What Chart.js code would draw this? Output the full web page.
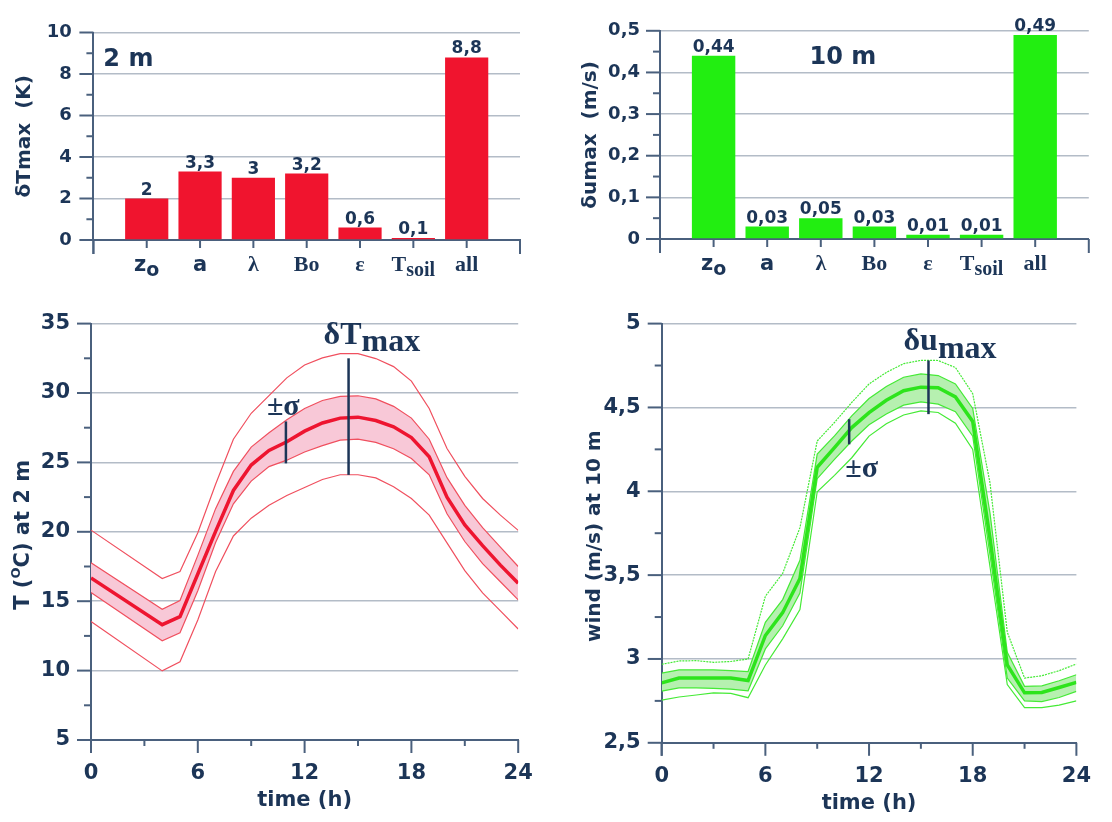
<!DOCTYPE html>
<html><head><meta charset="utf-8">
<script src="https://cdn.jsdelivr.net/npm/chart.js@4.4.1/dist/chart.umd.min.js"></script>
<style>
html,body{margin:0;padding:0;background:#fff;}
#wrap{position:relative;width:1112px;height:822px;overflow:hidden;background:#fff;}
canvas{position:absolute;}
</style></head><body>
<div id="wrap">
<canvas id="c1" width="556" height="290" style="left:0;top:0"></canvas>
<canvas id="c2" width="556" height="290" style="left:556px;top:0"></canvas>
<canvas id="c3" width="556" height="532" style="left:0;top:290px"></canvas>
<canvas id="c4" width="556" height="532" style="left:556px;top:290px"></canvas>
</div>
<script>
// ---------------- data ----------------
const categories = ['z|o', 'a', 'λ', 'Bo', 'ε', 'T|soil', 'all'];
const dTmax = [2, 3.3, 3, 3.2, 0.6, 0.1, 8.8];
const dUmax = [0.44, 0.03, 0.05, 0.03, 0.01, 0.01, 0.49];

const hoursT = [0, 4, 5, 6, 7, 8, 9, 10, 11, 12, 13, 14, 15, 16, 17, 18, 19, 20, 21, 22, 23, 24];
const tMean  = [16.68, 13.31, 13.89, 16.96, 20.03, 22.98, 24.81, 25.86, 26.49, 27.25, 27.84, 28.19, 28.26, 28.02, 27.56, 26.79, 25.40, 22.50, 20.50, 19.00, 17.60, 16.30];
const tSigUp = [17.77, 14.42, 15.05, 18.30, 21.67, 24.35, 26.10, 27.14, 28.07, 28.88, 29.46, 29.76, 29.80, 29.58, 29.04, 28.19, 26.67, 23.90, 21.90, 20.30, 18.90, 17.50];
const tSigLo = [15.63, 12.15, 12.73, 15.75, 19.23, 22.02, 23.65, 24.70, 25.16, 25.75, 26.21, 26.60, 26.67, 26.44, 25.98, 25.28, 24.11, 21.30, 19.30, 17.70, 16.40, 15.10];
const tOutUp = [20.12, 16.63, 17.14, 19.93, 23.42, 26.67, 28.54, 29.81, 31.09, 32.02, 32.53, 32.83, 32.83, 32.48, 31.90, 30.86, 28.88, 26.00, 24.00, 22.40, 21.20, 20.10];
const tOutLo = [13.54, 9.98, 10.63, 13.65, 17.14, 19.70, 20.98, 21.91, 22.61, 23.19, 23.77, 24.11, 24.11, 23.88, 23.24, 22.40, 21.20, 19.20, 17.20, 15.60, 14.30, 13.00];

const hoursU = [0, 1, 2, 3, 4, 5, 6, 7, 8, 9, 10, 11, 12, 13, 14, 15, 16, 17, 18, 19, 20, 21, 22, 23, 24];
const uMean  = [2.857, 2.886, 2.886, 2.886, 2.886, 2.871, 3.140, 3.276, 3.480, 4.143, 4.260, 4.380, 4.469, 4.543, 4.600, 4.621, 4.617, 4.563, 4.416, 3.720, 2.964, 2.798, 2.800, 2.830, 2.860];
const uSigUp = [2.915, 2.935, 2.935, 2.935, 2.930, 2.925, 3.218, 3.354, 3.588, 4.222, 4.330, 4.450, 4.553, 4.625, 4.680, 4.700, 4.690, 4.640, 4.494, 3.870, 3.040, 2.837, 2.840, 2.870, 2.906];
const uSigLo = [2.808, 2.828, 2.828, 2.825, 2.820, 2.810, 3.060, 3.198, 3.393, 4.075, 4.190, 4.300, 4.397, 4.461, 4.514, 4.533, 4.520, 4.475, 4.329, 3.620, 2.886, 2.750, 2.746, 2.770, 2.807];
const uOutUp = [2.968, 2.988, 2.990, 2.980, 2.985, 3.000, 3.374, 3.510, 3.783, 4.300, 4.410, 4.530, 4.640, 4.709, 4.761, 4.781, 4.780, 4.738, 4.582, 4.050, 3.160, 2.886, 2.900, 2.930, 2.970];
const uOutLo = [2.754, 2.773, 2.785, 2.798, 2.795, 2.769, 2.964, 3.120, 3.295, 3.997, 4.095, 4.200, 4.329, 4.403, 4.455, 4.480, 4.470, 4.406, 4.250, 3.550, 2.847, 2.710, 2.710, 2.725, 2.750];

// annotation markers: [hour, top value, bottom value]
const tMarkMax = [14.47, 32.5, 24.1];
const tMarkSig = [10.95, 27.95, 24.93];
const uMarkMax = [15.44, 4.78, 4.46];
const uMarkSig = [10.85, 4.43, 4.28];

// ---------------- style ----------------
const NAVY = '#1c3557';
const AXIS = '#4a607d';
const GRID = '#b3bcc7';
const SANS = '"DejaVu Sans", Verdana, sans-serif';
const SERIF = '"Liberation Serif", "Times New Roman", serif';
const catFamily = [SANS, SANS, SERIF, SERIF, SERIF, SERIF, SERIF];

const comma = v => String(Math.round(v * 1000) / 1000).replace('.', ',');

function seg(ctx, x1, y1, x2, y2) { ctx.beginPath(); ctx.moveTo(x1, y1); ctx.lineTo(x2, y2); ctx.stroke(); }
function runText(ctx, x, y, segs, align) {
  let total = 0;
  segs.forEach(s => { ctx.font = s[1]; total += ctx.measureText(s[0]).width; });
  let cx = align === 'center' ? x - total / 2 : x;
  ctx.textAlign = 'left';
  segs.forEach(s => { ctx.font = s[1]; ctx.fillText(s[0], cx, y + (s[2] || 0)); cx += ctx.measureText(s[0]).width; });
}
function rotText(ctx, cx, cy, segs) {
  ctx.save(); ctx.translate(cx, cy); ctx.rotate(-Math.PI / 2);
  ctx.textBaseline = 'middle'; ctx.fillStyle = NAVY;
  runText(ctx, 0, 0, segs, 'center');
  ctx.restore();
}

function makeDecor(cfg) {
  return {
    id: 'decor',
    afterDraw(chart) {
      const ctx = chart.ctx, ca = chart.chartArea;
      const xs = chart.scales.x, ys = chart.scales.y;
      ctx.save();
      ctx.strokeStyle = AXIS; ctx.lineWidth = 2;
      const n = Math.round((ys.max - ys.min) / cfg.yMinor);
      for (let k = 0; k <= n; k++) {
        const y = ys.getPixelForValue(ys.min + k * cfg.yMinor);
        const len = (k % 2 === 0) ? cfg.tickMajor : cfg.tickMinor;
        seg(ctx, ca.left - len, y, ca.left, y);
      }
      seg(ctx, ca.left, ca.bottom, ca.left, ca.bottom + cfg.ext);
      cfg.xTicks.forEach(t => {
        const x = xs.getPixelForValue(t[0]);
        seg(ctx, x, ca.bottom, x, ca.bottom + t[1]);
      });
      ctx.fillStyle = NAVY;
      rotText(ctx, ca.left + cfg.yTitleDx, (ca.top + ca.bottom) / 2 + cfg.yTitleDy, cfg.yTitle);
      if (cfg.extra) cfg.extra(ctx, ca, xs, ys, chart);
      ctx.restore();
    }
  };
}

function barChart(id, values, color, ymax, step, ypad, label, labelDx, yTitle, pad) {
  const labels = ['', ...categories, ''];
  const xTicks = labels.map((l, i) => [i, (i === 0 || i === labels.length - 1) ? 14 : 8]);
  const extra = (ctx, ca, xs, ys) => {
    ctx.fillStyle = NAVY;
    ctx.textBaseline = 'alphabetic';
    categories.forEach((c, i) => {
      const x = xs.getPixelForValue(i + 1);
      const parts = c.split('|');
      const fam = catFamily[i];
      const big = fam === SANS ? 'bold 21px ' : 'bold 22px ';
      const segs = [[parts[0], big + fam, 0]];
      if (parts[1]) segs.push([parts[1], (fam === SANS ? 'bold 19px ' : 'bold 20px ') + fam, 5]);
      runText(ctx, x, ca.bottom + 31, segs, 'center');
    });
    ctx.font = 'bold 17px ' + SANS; ctx.textAlign = 'center';
    values.forEach((v, i) => {
      ctx.fillText(comma(v), xs.getPixelForValue(i + 1), ys.getPixelForValue(v) - 4);
    });
    ctx.font = 'bold 24px ' + SANS; ctx.textAlign = 'center';
    ctx.fillText(label, ca.left + labelDx, ca.top + 33);
  };
  return new Chart(document.getElementById(id), {
    type: 'bar',
    data: { labels, datasets: [{ data: [null, ...values, null], backgroundColor: color, barPercentage: 0.81, categoryPercentage: 1 }] },
    options: {
      responsive: false, animation: false,
      layout: { padding: { left: 0, top: pad.top, right: pad.right, bottom: 0 } },
      plugins: { legend: { display: false }, tooltip: { enabled: false } },
      scales: {
        x: { offset: false, grid: { display: false, drawTicks: false }, border: { display: true, color: AXIS, width: 2 },
             ticks: { display: false }, afterFit: s => { s.height = pad.xh; } },
        y: { min: 0, max: ymax, ticks: { stepSize: step, padding: ypad, color: NAVY, font: { family: SANS, size: 18, weight: 'bold' }, callback: v => comma(v) },
             grid: { color: GRID, lineWidth: 1.5, drawTicks: false }, border: { color: AXIS, width: 2 },
             afterFit: s => { s.width = pad.yw; } }
      }
    },
    plugins: [makeDecor({ yMinor: step / 2, tickMajor: 14, tickMinor: 7, ext: 14, xTicks, yTitle, yTitleDx: -69, yTitleDy: 0, extra })]
  });
}

function pts(xs, ys) { return xs.map((x, i) => ({ x, y: ys[i] })); }

function lineChart(id, hours, mean, sUp, sLo, oUp, oLo, c, ymin, ymax, step, yTitle, pad, extra) {
  const xTicks = [0, 3, 6, 9, 12, 15, 18, 21, 24].map((h, i) => [h, i % 2 === 0 ? 13 : 6]);
  const thin = { borderColor: c.thin, borderWidth: 1.2, pointRadius: 0, fill: false };
  return new Chart(document.getElementById(id), {
    type: 'line',
    data: { datasets: [
      { data: pts(hours, mean), borderColor: c.main, borderWidth: 3.5, pointRadius: 0, fill: false },
      Object.assign({ data: pts(hours, sUp) }, thin),
      Object.assign({ data: pts(hours, sLo) }, thin, { fill: '-1', backgroundColor: c.band }),
      Object.assign({ data: pts(hours, oUp) }, thin, { borderDash: c.dash || [] }),
      Object.assign({ data: pts(hours, oLo) }, thin)
    ] },
    options: {
      responsive: false, animation: false,
      layout: { padding: { left: 0, top: pad.top, right: pad.right, bottom: 0 } },
      plugins: { legend: { display: false }, tooltip: { enabled: false } },
      scales: {
        x: { type: 'linear', min: 0, max: 24, grid: { display: false, drawTicks: false }, border: { display: true, color: AXIS, width: 2 },
             ticks: { stepSize: 6, padding: 21, color: NAVY, font: { family: SANS, size: 21, weight: 'bold' } },
             afterFit: s => { s.height = pad.xh; } },
        y: { min: ymin, max: ymax, ticks: { stepSize: step, padding: 21, color: NAVY, font: { family: SANS, size: 21, weight: 'bold' }, callback: v => comma(v) },
             grid: { color: GRID, lineWidth: 1.5, drawTicks: false }, border: { color: AXIS, width: 2 },
             afterFit: s => { s.width = pad.yw; } }
      }
    },
    plugins: [makeDecor({ yMinor: step / 2, tickMajor: 14, tickMinor: 7, ext: 13, xTicks, yTitle, yTitleDx: -67, yTitleDy: 3,
      extra: (ctx, ca, xs, ys) => {
        ctx.fillStyle = NAVY; ctx.textBaseline = 'middle'; ctx.textAlign = 'center';
        ctx.font = 'bold 21px ' + SANS;
        ctx.fillText('time (h)', (ca.left + ca.right) / 2, ca.bottom + 61);
        ctx.strokeStyle = NAVY; ctx.lineWidth = 2.5;
        ctx.textBaseline = 'alphabetic';
        extra(ctx, ca, xs, ys);
      } })]
  });
}

function marker(ctx, xs, ys, m) {
  const x = xs.getPixelForValue(m[0]);
  const y1 = ys.getPixelForValue(m[1]), y2 = ys.getPixelForValue(m[2]);
  seg(ctx, x, y1, x, y2);
  return { x, y1, y2 };
}

barChart('c1', dTmax, '#f0142e', 10, 2, 21.7, '2 m', 35,
  [['δTmax  (K)', 'bold 20px ' + SANS, 0]],
  { top: 25, right: 36, xh: 50, yw: 93.4 });

barChart('c2', dUmax, '#22ee11', 0.5, 0.1, 20, '10 m', 183,
  [['δumax  (m/s)', 'bold 20px ' + SANS, 0]],
  { top: 25, right: 23.2, xh: 51, yw: 104 });

lineChart('c3', hoursT, tMean, tSigUp, tSigLo, tOutUp, tOutLo,
  { main: '#ee1530', thin: '#f0505f', band: '#f8c8d7' }, 5, 35, 5,
  [['T (', 'bold 21px ' + SANS, 0], ['O', 'bold 13px ' + SANS, -7], ['C) at 2 m', 'bold 21px ' + SANS, 0]],
  { top: 20.6, right: 37.8, xh: 82, yw: 91 },
  (ctx, ca, xs, ys) => {
    const a = marker(ctx, xs, ys, tMarkMax);
    runText(ctx, a.x - 25, a.y1 - 14, [['δT', 'bold 32px ' + SERIF, 0], ['max', 'bold 32px ' + SERIF, 7]]);
    const b = marker(ctx, xs, ys, tMarkSig);
    runText(ctx, b.x - 19, b.y1 - 6, [['±σ', 'bold 30px ' + SERIF, 0]]);
  });

lineChart('c4', hoursU, uMean, uSigUp, uSigLo, uOutUp, uOutLo,
  { main: '#2de41c', thin: '#45ea36', band: '#b6f0b0', dash: [2, 1] }, 2.5, 5, 0.5,
  [['wind (m/s) at 10 m', 'bold 20px ' + SANS, 0]],
  { top: 25.2, right: 20.4, xh: 79.2, yw: 105.7 },
  (ctx, ca, xs, ys) => {
    const a = marker(ctx, xs, ys, uMarkMax);
    runText(ctx, a.x - 25, a.y1 - 10, [['δu', 'bold 32px ' + SERIF, 0], ['max', 'bold 32px ' + SERIF, 8]]);
    const b = marker(ctx, xs, ys, uMarkSig);
    runText(ctx, b.x - 4, b.y2 + 33, [['±σ', 'bold 30px ' + SERIF, 0]]);
  });
</script>
</body></html>
